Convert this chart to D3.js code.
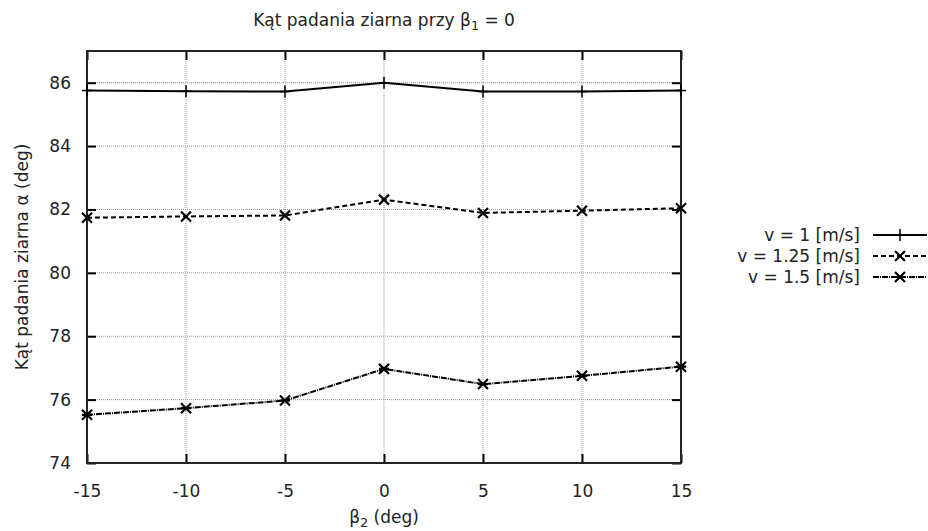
<!DOCTYPE html>
<html><head><meta charset="utf-8">
<script src="https://cdn.jsdelivr.net/npm/d3@7"></script>
<style>body{margin:0;background:#fff}svg{display:block}text{font-family:"DejaVu Sans",Verdana,sans-serif;fill:#222}</style>
</head><body><svg id="c" width="928" height="531"></svg>
<script>
const xValues = [-15, -10, -5, 0, 5, 10, 15];
const v1 = [85.75, 85.73, 85.72, 86.0, 85.72, 85.72, 85.75];
const v125 = [81.74, 81.78, 81.81, 82.31, 81.89, 81.96, 82.04];
const v15 = [75.52, 75.73, 75.97, 76.97, 76.49, 76.75, 77.04];
const seriesNames = ["v = 1 [m/s]", "v = 1.25 [m/s]", "v = 1.5 [m/s]"];
const xTicks = [-15, -10, -5, 0, 5, 10, 15];
const yTicks = [74, 76, 78, 80, 82, 84, 86];

const svg = d3.select("#c");
const L = 87, R = 681, T = 51, B = 463;
const x = d3.scaleLinear().domain([-15, 15]).range([L, R]);
const y = d3.scaleLinear().domain([74, 87]).range([B, T]);
const fs = 17;

// grid
const grid = svg.append("g").attr("stroke", "#999").attr("stroke-width", 1).attr("stroke-dasharray", "1,1");
xTicks.slice(1, -1).forEach(t => grid.append("line").attr("x1", x(t)).attr("x2", x(t)).attr("y1", T).attr("y2", B));
yTicks.slice(1).forEach(t => grid.append("line").attr("x1", L).attr("x2", R).attr("y1", y(t)).attr("y2", y(t)));

// axes via d3 axes (inward ticks)
const tl = 9;
const fmt = d => String(d);
const ax = svg.append("g");
ax.append("g").attr("transform", `translate(0,${B})`).call(d3.axisBottom(x).tickValues(xTicks).tickSize(-tl).tickPadding(tl + 13).tickFormat(fmt));
ax.append("g").attr("transform", `translate(0,${T})`).call(d3.axisTop(x).tickValues(xTicks).tickSize(-tl).tickFormat(""));
ax.append("g").attr("transform", `translate(${L},0)`).call(d3.axisLeft(y).tickValues(yTicks).tickSize(-tl).tickPadding(tl + 7).tickFormat(fmt));
ax.append("g").attr("transform", `translate(${R},0)`).call(d3.axisRight(y).tickValues(yTicks).tickSize(-tl).tickFormat(""));
ax.selectAll(".domain").remove();
ax.selectAll(".tick line").attr("stroke", "#000").attr("stroke-width", 2);
ax.selectAll(".tick text").attr("font-size", fs).attr("font-family", "DejaVu Sans").attr("fill", "#222");
svg.append("rect").attr("x", L).attr("y", T).attr("width", R - L).attr("height", B - T).attr("fill", "none").attr("stroke", "#222").attr("stroke-width", 2);

// series
const series = [
  {vals: v1, dash: null, marker: "plus"},
  {vals: v125, dash: "5,3", marker: "x"},
  {vals: v15, dash: "6,1,1,1", marker: "star"}
];
const line = d3.line().x((d, i) => x(xValues[i])).y(d => y(d));
function marker(g, cx, cy, type) {
  const s = 5;
  const p = g.append("path").attr("stroke", "#000").attr("stroke-width", 2).attr("fill", "none");
  if (type === "plus") p.attr("d", `M${cx},${cy - s - 1}V${cy + s + 1}M${cx - s},${cy}H${cx + s}`).attr("stroke-width", 1.5);
  else if (type === "x") p.attr("d", `M${cx - s},${cy - s}L${cx + s},${cy + s}M${cx - s},${cy + s}L${cx + s},${cy - s}`).attr("stroke-width", 2.2);
  else p.attr("d", `M${cx - s},${cy - s}L${cx + s},${cy + s}M${cx - s},${cy + s}L${cx + s},${cy - s}M${cx - s},${cy}H${cx + s}`).attr("stroke-width", 2.2);
}
const sg = svg.append("g");
series.forEach(s => {
  sg.append("path").datum(s.vals).attr("d", line).attr("fill", "none").attr("stroke", "#000").attr("stroke-width", 2)
    .attr("stroke-dasharray", s.dash);
  s.vals.forEach((v, i) => marker(sg, x(xValues[i]), y(v), s.marker));
});

// legend
const lg = svg.append("g");
seriesNames.forEach((n, i) => {
  const yy = 235 + i * 21;
  lg.append("text").attr("x", 860).attr("y", yy).attr("dy", "0.35em").attr("text-anchor", "end").attr("font-size", fs).text(n);
  lg.append("line").attr("x1", 873).attr("x2", 927).attr("y1", yy).attr("y2", yy).attr("stroke", "#000").attr("stroke-width", 2).attr("stroke-dasharray", series[i].dash);
  marker(lg, 900, yy, series[i].marker);
});

// title and labels
const cx = (L + R) / 2;
const title = svg.append("text").attr("x", cx).attr("y", 26).attr("text-anchor", "middle").attr("font-size", fs);
title.append("tspan").text("Kąt padania ziarna przy β");
title.append("tspan").attr("font-size", fs * 0.75).attr("dy", 4).text("1");
title.append("tspan").attr("dy", -4).text(" = 0");
const xl = svg.append("text").attr("x", cx).attr("y", 523).attr("text-anchor", "middle").attr("font-size", fs);
xl.append("tspan").text("β");
xl.append("tspan").attr("font-size", fs * 0.75).attr("dy", 4).text("2");
xl.append("tspan").attr("dy", -4).text(" (deg)");
svg.append("text").attr("transform", "translate(28,257) rotate(-90)").attr("text-anchor", "middle").attr("font-size", fs).text("Kąt padania ziarna α (deg)");
</script></body></html>
